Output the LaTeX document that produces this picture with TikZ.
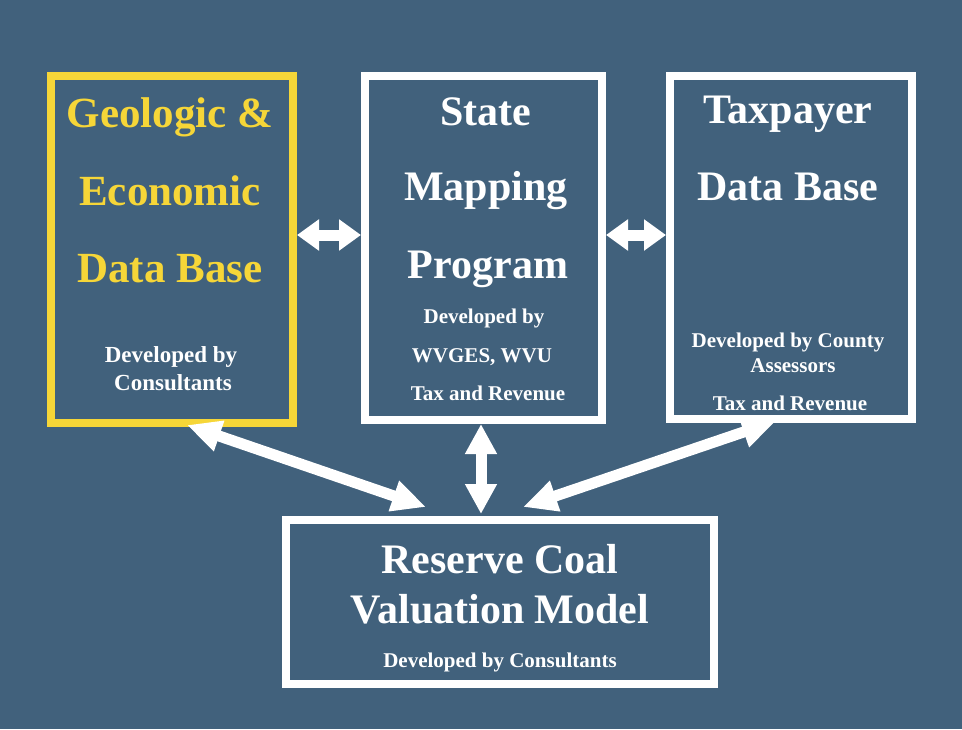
\documentclass[tikz,border=0pt]{standalone}
\usepackage{fontspec}
\setmainfont{Liberation Serif}
\usepackage{tikz}
\usetikzlibrary{arrows.meta,calc}

\definecolor{slate}{RGB}{65,97,124}
\definecolor{gold}{RGB}{246,214,56}

\tikzset{
  panel/.style={draw=white, line width=8pt, fill=slate, inner sep=0pt},
  headline/.style={text=white, anchor=base, inner sep=0pt, font=\fontsize{42}{46}\selectfont\bfseries},
  credit/.style={text=white, anchor=base, inner sep=0pt, font=\fontsize{21}{24}\selectfont\bfseries},
  link/.style={draw=white, line width=11pt,
    {Triangle[length=#1,width=30pt]}-{Triangle[length=#1,width=30pt]}},
  link/.default=22pt
}

\begin{document}
\begin{tikzpicture}[x=1pt,y=-1pt]
	\fill [slate] (0,0) rectangle (962,729);
	\useasboundingbox (0,0) rectangle (962,729);
	% the four boxes
	\node [panel, draw=gold, minimum width=242pt, minimum height=347pt] (geo) at (172,249.5) {};
	\node [panel, minimum width=237pt, minimum height=344pt] (map) at (483.5,248) {};
	\node [panel, minimum width=242pt, minimum height=343pt] (tax) at (791,247.5) {};
	\node [panel, minimum width=428pt, minimum height=164pt] (coal) at (500,602) {};
	% geologic box
	\node [headline, text=gold, font=\fontsize{43}{46}\selectfont\bfseries] (geo1) at (170,127) {Geologic \&};
	\node [headline, text=gold, font=\fontsize{43}{46}\selectfont\bfseries] (geo2) at (170,205) {Economic};
	\node [headline, text=gold, font=\fontsize{43}{46}\selectfont\bfseries] (geo3) at (170,282) {Data Base};
	\node [credit, font=\fontsize{23}{26}\selectfont\bfseries] (geo4) at (171,362) {Developed by};
	\node [credit, font=\fontsize{23}{26}\selectfont\bfseries] (geo5) at (173,390) {Consultants};
	% mapping box
	\node [headline] (map1) at (486,125) {State};
	\node [headline] (map2) at (486,200) {Mapping};
	\node [headline] (map3) at (488,278) {Program};
	\node [credit] (map4) at (484,323) {Developed by};
	\node [credit] (map5) at (482,362) {WVGES, WVU};
	\node [credit] (map6) at (488,400) {Tax and Revenue};
	% taxpayer box
	\node [headline] (tax1) at (788,123) {Taxpayer};
	\node [headline] (tax2) at (788,200) {Data Base};
	\node [credit] (tax3) at (788,347) {Developed by County};
	\node [credit] (tax4) at (793,372) {Assessors};
	\node [credit] (tax5) at (790,410) {Tax and Revenue};
	% valuation box
	\node [headline] (coal1) at (500,573) {Reserve Coal};
	\node [headline] (coal2) at (500,623) {Valuation Model};
	\node [credit] (coal3) at (500,667) {Developed by Consultants};
	% connectors
	\coordinate (row) at (0,235);
	\coordinate (col) at (481,0);
	\draw [link] (geo.east |- row) -- (map.west |- row);
	\draw [link] (map.east |- row) -- (tax.west |- row);
	\draw [link=30pt] (col |- map.south) -- ($(col |- coal.north)+(0,-2)$);
	\draw [link=34pt] ($(geo.south)+(15,-2)$) -- ($(coal.north west)+(144,-9)$);
	\draw [link=34pt] ($(tax.south)+(-15,-2)$) -- ($(coal.north west)+(241,-9)$);
\end{tikzpicture}
\end{document}
